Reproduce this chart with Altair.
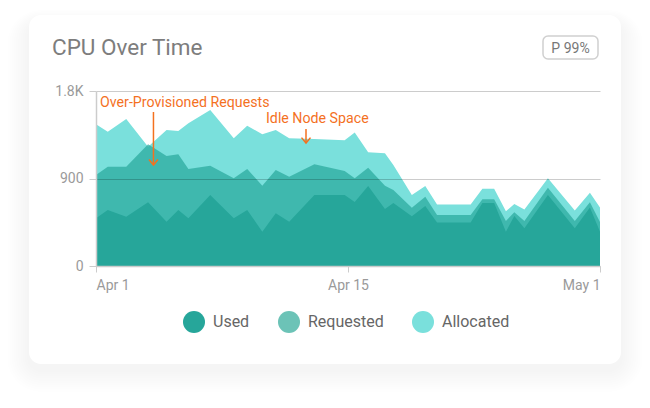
import altair as alt
import pandas as pd

# ---- data ----
t_days = [0, 0.7, 1.8, 3.1, 4.2, 4.9, 5.5, 6.8, 8.2, 9.0, 9.9, 10.7, 11.5, 13.0, 14.8, 15.4,
          16.2, 17.2, 17.7, 18.8, 19.6, 20.3, 22.3, 23.0, 23.7, 24.4, 24.9, 25.5, 26.9, 28.5, 29.4, 30]
allocated = [1457, 1381, 1512, 1227, 1399, 1389, 1468, 1605, 1313, 1443, 1355, 1399, 1313, 1306, 1293, 1373,
             1169, 1159, 1039, 730, 823, 633, 633, 795, 795, 563, 638, 581, 902, 571, 754, 602]
requested = [936, 1021, 1021, 1252, 1131, 1149, 998, 1032, 902, 998, 826, 987, 919, 1046, 977, 902,
             1011, 826, 782, 600, 713, 525, 525, 686, 686, 463, 552, 463, 805, 463, 655, 453]
used = [491, 576, 507, 655, 456, 576, 491, 730, 491, 576, 353, 542, 456, 730, 730, 658,
        823, 586, 648, 511, 617, 447, 447, 648, 648, 353, 514, 388, 730, 388, 602, 353]

series_names = ["Used", "Requested", "Allocated"]
legend_colors = ["#26a69a", "#6cc3b7", "#7ae0dc"]

x_tick_values = [0, 15, 30]
x_tick_labels = ["Apr 1", "Apr 15", "May 1"]
y_tick_values = [0, 900, 1800]

title_text = "CPU Over Time"
badge_text = "P 99%"

ann_text = ["Over-Provisioned Requests", "Idle Node Space"]
ann_text_t = [0.24, 10.12]
ann_text_v = [1639, 1468]
ann_arrow_t = [3.42, 12.5]
ann_arrow_top = [1584, 1409]
ann_arrow_bottom = [1039, 1265]

ORANGE = "#f4711f"
FONT = "Roboto"

# ---- tables ----
df = pd.DataFrame({"t": t_days, "Used": used, "Requested": requested, "Allocated": allocated})
long = df.melt("t", var_name="series", value_name="cpu")

ann_df = pd.DataFrame({"t": ann_text_t, "cpu": ann_text_v, "label": ann_text})
arrow_df = pd.DataFrame({"t": ann_arrow_t, "cpu": ann_arrow_top, "cpu2": ann_arrow_bottom})
one = pd.DataFrame({"a": [0]})

label_expr = " : ".join(
    [f"datum.value == {v} ? '{l}'" for v, l in zip(x_tick_values[:-1], x_tick_labels[:-1])]
) + f" : '{x_tick_labels[-1]}'"

x_axis = alt.Axis(values=x_tick_values, labelExpr=label_expr, title=None, grid=False,
                  labelFlush=True, labelFontSize=14, labelColor="#9a9a9a", labelFont=FONT,
                  tickColor="#cccccc", tickSize=6, domainColor="#cccccc", domainWidth=1.5,
                  labelPadding=6, zindex=1)
y_axis = alt.Axis(values=y_tick_values,
                  labelExpr="datum.value >= 1000 ? format(datum.value/1000, '.1f') + 'K' : datum.label",
                  title=None, grid=True, gridColor="#000000", gridOpacity=0.2, gridWidth=1.2,
                  labelFontSize=14, labelColor="#9a9a9a", labelFont=FONT, tickColor="#cccccc",
                  tickSize=7, domainColor="#cccccc", domainWidth=1.5, labelPadding=6, zindex=1)

xs = alt.Scale(domain=[0, 30], nice=False)
ys = alt.Scale(domain=[0, 1800], nice=False)
X = alt.X("t:Q", scale=xs, axis=x_axis)
Y = alt.Y("cpu:Q", scale=ys, axis=y_axis)

# ---- card decoration (pixel positions relative to the plot area) ----
layers = []
for i in range(1, 11):
    e = i * 2.2
    layers.append(
        alt.Chart(one).mark_rect(color="#000000", opacity=0.005, cornerRadius=12 + e).encode(
            x=alt.value(-67 - e), x2=alt.value(525 + e),
            y=alt.value(-76 + 8 - e * 0.6), y2=alt.value(273 + 6 + e))
    )
layers.append(
    alt.Chart(one).mark_rect(color="#ffffff", cornerRadius=12).encode(
        x=alt.value(-67), x2=alt.value(525), y=alt.value(-76), y2=alt.value(273))
)
layers.append(
    alt.Chart(one).mark_rect(fill="#ffffff", stroke="#d0d0d0", strokeWidth=1.5, cornerRadius=5).encode(
        x=alt.value(447), x2=alt.value(502), y=alt.value(-55), y2=alt.value(-32))
)
layers.append(
    alt.Chart(one).mark_text(text=badge_text, font=FONT, fontSize=14, color="#777777",
                             align="center", baseline="alphabetic").encode(
        x=alt.value(474.5), y=alt.value(-38))
)
layers.append(
    alt.Chart(one).mark_text(text=title_text, font=FONT, fontSize=22.5, color="#7d7d7d",
                             align="left", baseline="alphabetic").encode(
        x=alt.value(-44), y=alt.value(-36))
)

# ---- areas ----
area_base = alt.Chart(long)
layers.append(area_base.transform_filter(alt.datum.series == "Allocated")
              .mark_area(color="#7ae0dc", opacity=1).encode(x=X, y=Y))
layers.append(area_base.transform_filter(alt.datum.series == "Requested")
              .mark_area(color="#26a69a", opacity=0.7).encode(x=X, y=Y))
layers.append(area_base.transform_filter(alt.datum.series == "Used")
              .mark_area(color="#26a69a", opacity=1).encode(x=X, y=Y))

# ---- annotations ----
layers.append(alt.Chart(ann_df).mark_text(font=FONT, fontSize=14.2, color=ORANGE, align="left",
                                          baseline="alphabetic").encode(x=X, y=Y, text="label:N"))
layers.append(alt.Chart(arrow_df).mark_rule(color=ORANGE, strokeWidth=1.5).encode(
    x=X, y=Y, y2="cpu2:Q"))
layers.append(alt.Chart(arrow_df).mark_point(shape="M-1,-1.2L0,0L1,-1.2", filled=False, size=81,
                                             color=ORANGE, strokeWidth=1.5, opacity=1).encode(
    x=X, y=alt.Y("cpu2:Q", scale=ys, axis=y_axis)))

# ---- legend carrier (invisible points) ----
layers.append(alt.Chart(long).mark_circle(opacity=0).encode(
    x=X, y=Y,
    color=alt.Color("series:N", scale=alt.Scale(domain=series_names, range=legend_colors),
                    legend=alt.Legend(orient="none", legendX=87, legendY=220, direction="horizontal",
                                      title=None, symbolType="circle", symbolSize=484,
                                      symbolOpacity=1, symbolStrokeWidth=0, labelFontSize=16,
                                      labelColor="#666666", labelFont=FONT, labelOffset=8,
                                      columnPadding=28))))

chart = alt.layer(*layers).properties(
    width=504, height=175, autosize="none",
    padding={"left": 88, "top": 83, "right": 42, "bottom": 126},
    background="#ffffff",
).configure_view(stroke=None)

chart.save("out.html", embed_options={"renderer": "svg", "actions": False})
